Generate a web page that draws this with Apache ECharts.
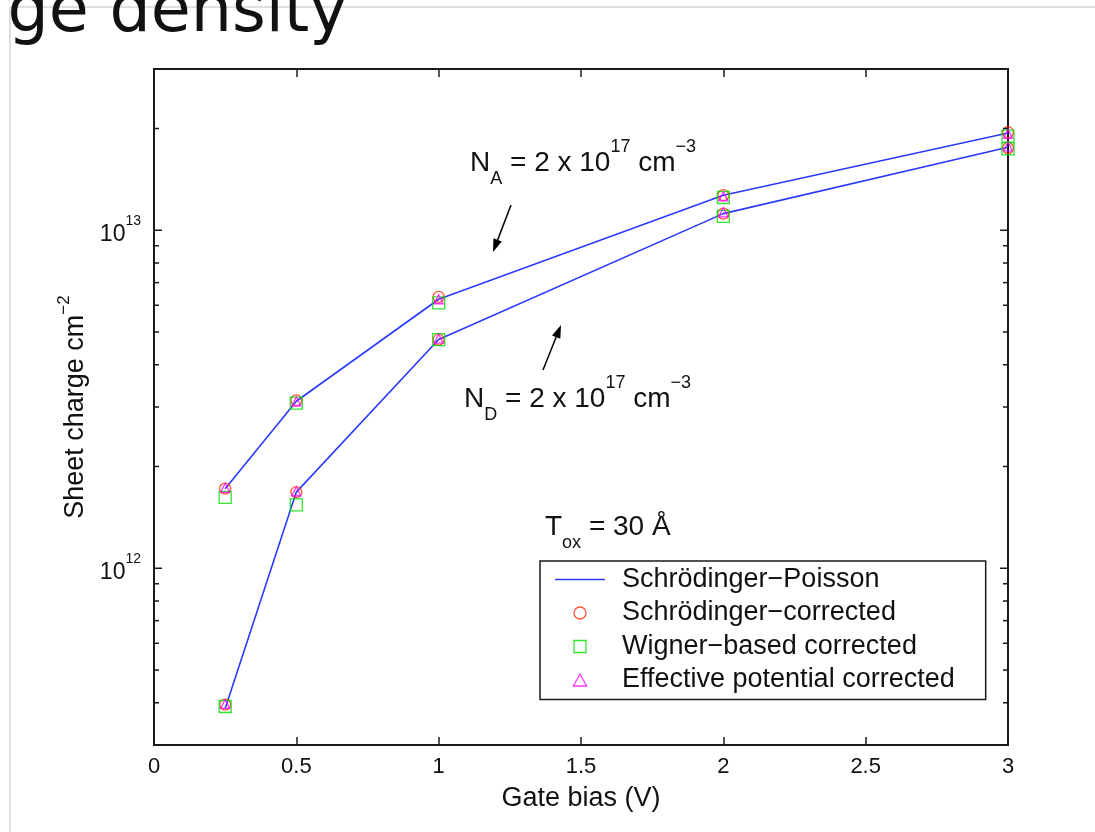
<!DOCTYPE html>
<html><head><meta charset="utf-8">
<script src="https://cdn.jsdelivr.net/npm/echarts@6/dist/echarts.min.js"></script>
<style>html,body{margin:0;padding:0;background:#fff;}#chart{width:1095px;height:832px;}</style>
</head><body><div id="chart"></div>
<script>
// ---- data ----
const gateBias = [0.25, 0.5, 1, 2, 3];
// Schrödinger-Poisson (lines)
const spNA = [1.72e12, 3.12e12, 6.25e12, 1.27e13, 1.94e13];
const spND = [3.85e11, 1.68e12, 4.75e12, 1.12e13, 1.76e13];
// Schrödinger-corrected (circles)
const scNA = [1.72e12, 3.14e12, 6.35e12, 1.27e13, 1.95e13];
const scND = [3.95e11, 1.68e12, 4.75e12, 1.12e13, 1.75e13];
// Wigner-based corrected (squares)
const wgNA = [1.62e12, 3.08e12, 6.1e12, 1.25e13, 1.9e13];
const wgND = [3.9e11, 1.54e12, 4.75e12, 1.1e13, 1.74e13];
// Effective potential corrected (triangles)
const epNA = [1.73e12, 3.12e12, 6.25e12, 1.26e13, 1.93e13];
const epND = [3.97e11, 1.69e12, 4.78e12, 1.13e13, 1.77e13];

const seriesNames = ['Schrödinger\u2212Poisson', 'Schrödinger\u2212corrected', 'Wigner\u2212based corrected', 'Effective potential corrected'];
const xTicks = [0, 0.5, 1, 1.5, 2, 2.5, 3];
const yMajorTicks = [1e12, 1e13];
const yMinorTicks = [4e11, 5e11, 6e11, 7e11, 8e11, 9e11, 2e12, 3e12, 4e12, 5e12, 6e12, 7e12, 8e12, 9e12, 2e13];

const FONT = 'Liberation Sans';
const AX = '#1a1a1a';
const BLUE = '#2a3aff';

function pairs(ys) { return gateBias.map((x, i) => [x, ys[i]]); }

function arrow(x1, y1, x2, y2) {
  const dx = x2 - x1, dy = y2 - y1, L = Math.hypot(dx, dy);
  const ux = dx / L, uy = dy / L, hl = 13, hw = 4.5;
  const bx = x2 - ux * hl, by = y2 - uy * hl;
  return [
    { type: 'line', shape: { x1, y1, x2: bx, y2: by }, style: { stroke: '#000', lineWidth: 1.5 } },
    { type: 'polygon', shape: { points: [[x2, y2], [bx - uy * hw, by + ux * hw], [bx + uy * hw, by - ux * hw]] }, style: { fill: '#000' } }
  ];
}

const chart = echarts.init(document.getElementById('chart'), null, { renderer: 'canvas' });

const markerStyle = (c) => ({ color: 'none', borderColor: c, borderWidth: 1.3 });
const SQUARE = 'path://M0,0L10,0L10,10L0,10Z';
const TRI = 'path://M5,0L10,9L0,9Z';
const HLINE = 'path://M0,0L40,0L40,1.2L0,1.2Z';

const option = {
  animation: false,
  backgroundColor: '#fff',
  grid: { left: 154, right: 87, top: 69, bottom: 87, show: true, borderColor: AX, borderWidth: 2, backgroundColor: 'transparent', outerBoundsMode: 'none' },
  xAxis: [{
    type: 'value', min: 0, max: 3, interval: 0.5,
    name: 'Gate bias (V)', nameLocation: 'middle', nameGap: 40,
    nameTextStyle: { fontSize: 27, fontFamily: FONT, color: '#111' },
    axisLine: { show: false },
    axisTick: { show: true, inside: true, length: 8, lineStyle: { color: AX, width: 1.5 } },
    axisLabel: { fontSize: 22, fontFamily: FONT, color: '#111', margin: 11, formatter: v => String(v) },
    splitLine: { show: false }
  }, {
    type: 'value', min: 0, max: 3, interval: 0.5, position: 'top',
    axisLine: { show: false },
    axisTick: { show: true, inside: true, length: 8, lineStyle: { color: AX, width: 1.5 } },
    axisLabel: { show: false }, splitLine: { show: false }
  }],
  yAxis: {
    type: 'log', logBase: 10, min: 3e11, max: 3e13,
    name: '{t|Sheet charge cm}{s|\u22122}', nameLocation: 'middle', nameGap: 56,
    nameTextStyle: {
      rich: {
        t: { fontSize: 27, fontFamily: FONT, color: '#111', lineHeight: 40 },
        s: { fontSize: 17, fontFamily: FONT, color: '#111', lineHeight: 24, verticalAlign: 'top' }
      }
    },
    axisLine: { show: false }, axisTick: { show: false }, splitLine: { show: false },
    axisLabel: {
      margin: 13,
      formatter: function (v) {
        const e = Math.log10(v), r = Math.round(e);
        if (Math.abs(e - r) > 1e-6) return '';
        return '{b|10}{s|' + r + '}';
      },
      rich: {
        b: { fontSize: 23, fontFamily: FONT, color: '#111', lineHeight: 32, verticalAlign: 'bottom' },
        s: { fontSize: 14, fontFamily: FONT, color: '#111', lineHeight: 24, verticalAlign: 'top' }
      }
    }
  },
  legend: {
    orient: 'vertical', left: 540, top: 561,
    padding: [5, 31, 6, 15],
    itemWidth: 50, itemHeight: 12, itemGap: 6.5,
    symbolKeepAspect: true,
    backgroundColor: '#fff', borderColor: AX, borderWidth: 1.5, borderRadius: 0,
    textStyle: { fontSize: 27, fontFamily: FONT, color: '#111', lineHeight: 27, padding: [0, 0, 0, 12] },
    data: [
      { name: seriesNames[0], icon: HLINE, itemStyle: { color: BLUE, borderWidth: 0 } },
      { name: seriesNames[1], icon: 'circle', itemStyle: markerStyle('#ff2a00') },
      { name: seriesNames[2], icon: SQUARE, itemStyle: markerStyle('#00dd00') },
      { name: seriesNames[3], icon: TRI, itemStyle: markerStyle('#ff00ff') }
    ]
  },
  series: [
    { type: 'line', name: seriesNames[0], data: pairs(spNA), symbol: 'none', lineStyle: { color: BLUE, width: 1.6 }, itemStyle: { color: BLUE }, z: 2 },
    { type: 'line', name: seriesNames[0], data: pairs(spND), symbol: 'none', lineStyle: { color: BLUE, width: 1.6 }, itemStyle: { color: BLUE }, z: 2 },
    { type: 'scatter', name: seriesNames[1], data: pairs(scNA).concat(pairs(scND)), symbol: 'circle', symbolSize: 11, itemStyle: markerStyle('#ff2a00'), clip: false, z: 3 },
    { type: 'scatter', name: seriesNames[2], data: pairs(wgNA).concat(pairs(wgND)), symbol: 'rect', symbolSize: 12, itemStyle: markerStyle('#00dd00'), clip: false, z: 4 },
    { type: 'scatter', name: seriesNames[3], data: pairs(epNA).concat(pairs(epND)), symbol: 'triangle', symbolSize: 9, itemStyle: markerStyle('#ff00ff'), clip: false, z: 5 },
    {
      type: 'custom', silent: true, z: 6, clip: false,
      data: yMajorTicks.map(v => [0, v, 1]).concat(yMinorTicks.map(v => [0, v, 0])),
      renderItem: function (params, api) {
        const p = api.coord([0, api.value(1)]);
        const cs = params.coordSys;
        const len = api.value(2) ? 8 : 5;
        const st = { stroke: AX, lineWidth: 1.5 };
        return { type: 'group', children: [
          { type: 'line', shape: { x1: cs.x, y1: p[1], x2: cs.x + len, y2: p[1] }, style: st },
          { type: 'line', shape: { x1: cs.x + cs.width, y1: p[1], x2: cs.x + cs.width - len, y2: p[1] }, style: st }
        ] };
      }
    }
  ],
  graphic: [
    { type: 'line', shape: { x1: 10, y1: 7, x2: 1095, y2: 7 }, style: { stroke: '#d4d4d4', lineWidth: 1.5 }, z: 0 },
    { type: 'line', shape: { x1: 10, y1: 7, x2: 10, y2: 832 }, style: { stroke: '#d4d4d4', lineWidth: 1.5 }, z: 0 },
    { type: 'text', left: -18, top: -18, z: 1, style: { text: 'rge density', font: '65px "DejaVu Sans"', fill: '#111' } },
    { type: 'text', x: 470, y: 138, style: { text: '{t|N}{b|A}{t| = 2 x 10}{p|17}{t| cm}{p|\u22123}', rich: {
        t: { fontSize: 28, fontFamily: FONT, fill: '#111', lineHeight: 50 },
        p: { fontSize: 18, fontFamily: FONT, fill: '#111', lineHeight: 32, verticalAlign: 'top' },
        b: { fontSize: 18, fontFamily: FONT, fill: '#111', lineHeight: 16, verticalAlign: 'bottom' } } } },
    { type: 'text', x: 464, y: 374, style: { text: '{t|N}{b|D}{t| = 2 x 10}{p|17}{t| cm}{p|\u22123}', rich: {
        t: { fontSize: 28, fontFamily: FONT, fill: '#111', lineHeight: 50 },
        p: { fontSize: 18, fontFamily: FONT, fill: '#111', lineHeight: 30, verticalAlign: 'top' },
        b: { fontSize: 18, fontFamily: FONT, fill: '#111', lineHeight: 18, verticalAlign: 'bottom' } } } },
    { type: 'text', x: 545, y: 502, style: { text: '{t|T}{b|ox}{t| = 30 \u00c5}', rich: {
        t: { fontSize: 28, fontFamily: FONT, fill: '#111', lineHeight: 50 },
        b: { fontSize: 18, fontFamily: FONT, fill: '#111', lineHeight: 12, verticalAlign: 'bottom' } } } }
  ].concat(arrow(511, 205, 493, 252)).concat(arrow(543, 370, 561, 325))
};
chart.setOption(option);
</script></body></html>
